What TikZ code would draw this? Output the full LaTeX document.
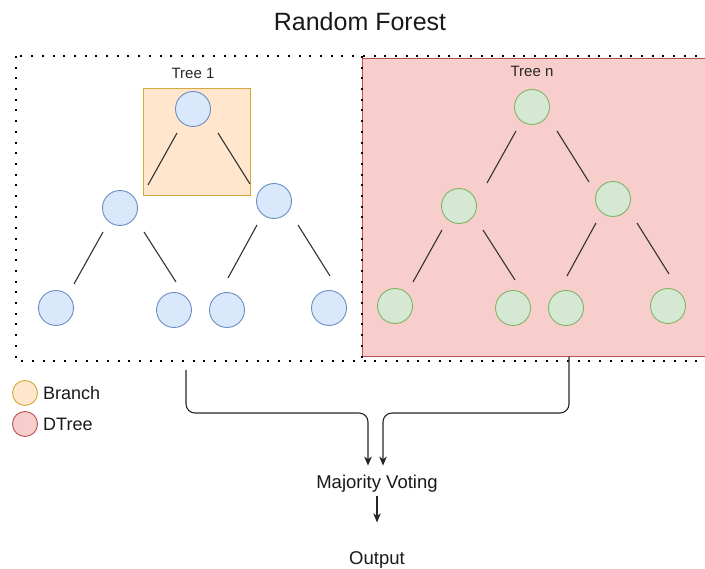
\documentclass[tikz,border=0pt]{standalone}
\usepackage{fontspec}
\setmainfont{Liberation Sans}
\usetikzlibrary{arrows.meta,calc}
\definecolor{b-fill}{HTML}{DAE8FC}
\definecolor{b-line}{HTML}{6C8EBF}
\definecolor{g-fill}{HTML}{D5E8D4}
\definecolor{g-line}{HTML}{82B366}
\definecolor{o-fill}{HTML}{FFE6CC}
\definecolor{o-line}{HTML}{D6A73C}
\definecolor{r-fill}{HTML}{F8CECC}
\definecolor{r-line}{HTML}{B85450}

\begin{document}
\begin{tikzpicture}[x=1pt,y=-1pt,
    tnode/.style={circle,line width=0.9pt,minimum size=35pt,inner sep=0pt},
    edge/.style={draw=black!80,line width=1.1pt},
    flow/.style={draw=black!85,line width=1.1pt,-{Stealth[length=9pt,width=7.5pt,inset=2.5pt]}},
    dots/.style={line width=2pt,dash pattern=on 2pt off 8.7pt},
    lbl/.style={font=\fontsize{18}{20}\selectfont,text=black!90,inner sep=0pt}]

  \clip (0,0) rectangle (705,569);
  \node[font=\fontsize{25}{28}\selectfont,text=black!90] (title) at (360,22) {Random Forest};

  % the two panels
  \fill[r-fill] (362,59) rectangle (715,357);
  \draw[r-line,line width=1pt] (715,59) -- (362,59) -- (362,357) -- (715,357);
  \draw[dots] (16,56) rectangle (720,361);
  \draw[dots] (362,56) -- (362,361);

  \node[draw=o-line,fill=o-fill,line width=1pt,minimum size=107pt,inner sep=0pt] (branchbox) at (196.5,142.5) {};

  % one tree per panel
  \foreach \t/\dx/\dy/\tc in {1/0/0/b, n/339/-2/g} {
    \begin{scope}[shift={(\dx,\dy)}]
      \node[font=\fontsize{15}{17}\selectfont,text=black!85] (\t-lbl) at (193,73) {Tree \t};
      \node[tnode,draw=\tc-line,fill=\tc-fill] (\t-r) at (193,109) {};
      \node[tnode,draw=\tc-line,fill=\tc-fill] (\t-a) at (120,208) {};
      \node[tnode,draw=\tc-line,fill=\tc-fill] (\t-b) at (274,201) {};
      \node[tnode,draw=\tc-line,fill=\tc-fill] (\t-aa) at (56,308) {};
      \node[tnode,draw=\tc-line,fill=\tc-fill] (\t-ab) at (174,310) {};
      \node[tnode,draw=\tc-line,fill=\tc-fill] (\t-ba) at (227,310) {};
      \node[tnode,draw=\tc-line,fill=\tc-fill] (\t-bb) at (329,308) {};
      \draw[edge] ($(\t-r)+(-16,24)$) -- ($(\t-a)+(28,-23)$);
      \draw[edge] ($(\t-r)+(25,24)$) -- ($(\t-b)+(-24,-17)$);
      \draw[edge] ($(\t-a)+(-17,24)$) -- ($(\t-aa)+(18,-24)$);
      \draw[edge] ($(\t-a)+(24,24)$) -- ($(\t-ab)+(2,-28)$);
      \draw[edge] ($(\t-b)+(-17,24)$) -- ($(\t-ba)+(1,-32)$);
      \draw[edge] ($(\t-b)+(24,24)$) -- ($(\t-bb)+(1,-32)$);
    \end{scope}
  }

  % legend
  \node[circle,draw=o-line,fill=o-fill,line width=0.9pt,minimum size=25pt,inner sep=0pt] (lg-branch) at (25,393) {};
  \node[lbl,anchor=west] (lg-branch-txt) at (43,393) {Branch};
  \node[circle,draw=r-line,fill=r-fill,line width=0.9pt,minimum size=25pt,inner sep=0pt] (lg-dtree) at (25,424) {};
  \node[lbl,anchor=west] (lg-dtree-txt) at (43,424) {DTree};

  % voting
  \node[lbl,font=\fontsize{18.5}{20}\selectfont] (vote) at (377,484) {Majority Voting};
  \node[lbl,font=\fontsize{18.5}{20}\selectfont] (out) at (377,560) {Output};
  \coordinate (t1-end) at (186,370);
  \coordinate (tn-end) at (569,357);
  \draw[flow,shorten >=9.5pt] (t1-end) [rounded corners=9pt] -- ++(0,43) -| ($(vote.north)+(-9,-30)$)
    [sharp corners] -- ([xshift=-9pt]vote.north);
  \draw[flow,shorten >=9.5pt] (tn-end) [rounded corners=9pt] -- ++(0,56) -| ($(vote.north)+(6,-30)$)
    [sharp corners] -- ([xshift=6pt]vote.north);
  \draw[flow,shorten <=3pt,shorten >=29pt] (vote.south) -- (out.north);
\end{tikzpicture}
\end{document}
